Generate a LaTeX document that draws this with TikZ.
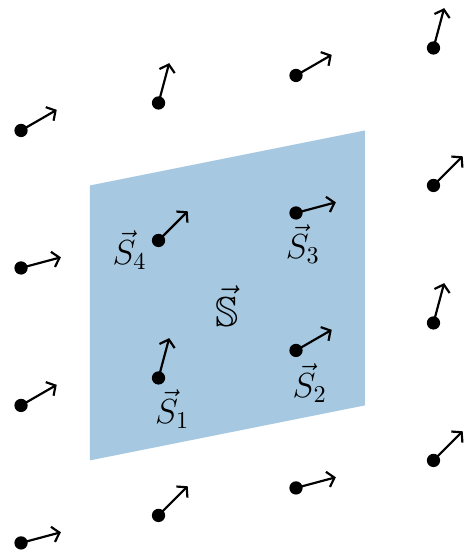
\documentclass[tikz,border=0pt]{standalone}
\usepackage{amssymb}
\usepackage{tikz}
\usetikzlibrary{arrows.meta,positioning,calc}
\usepackage{xcolor}
\definecolor{spPlane}{RGB}{166,200,224}

\begin{document}
\begin{tikzpicture}[x=2cm, y=2cm,
  site/.style={circle, fill=black, inner sep=0pt, minimum size=5.5pt},
  spin/.style={-{Straight Barb[length=2.8pt, width=6.5pt]}, line width=0.9pt, line cap=round},
  lbl/.style={font=\Large, inner sep=1pt}]
\useasboundingbox (-0.153,-0.066) rectangle (3.287,3.949);
% plaquette
\fill[spPlane] (0.5,0.6) -- (2.5,1.0) -- (2.5,3.0) -- (0.5,2.6) -- cycle;
% lattice of spins, angle repeats on a 2x2 cell
\foreach \i in {0,...,3}{
  \foreach \j in {0,...,3}{
    \pgfmathtruncatemacro{\k}{2*mod(\i,2)+mod(\j,2)}
    \pgfmathsetmacro{\ang}{{15,30,45,75}[\k]}
    \node[site] (d\i\j) at ({\i},{\j+0.2*\i}) {};
    \coordinate (t\i\j) at ($(d\i\j.center)+(\ang:0.3)$);
    \draw[spin] (d\i\j.center) -- (t\i\j);
  }
}
\node[lbl] (s1) at ($(d11)+(0.10,-0.23)$) {$\vec{S}_1$};
\node[lbl] (s2) at ($(d21)+(0.10,-0.24)$) {$\vec{S}_2$};
\node[lbl] (s3) at ($(d22)+(0.05,-0.23)$) {$\vec{S}_3$};
\node[lbl] (s4) at ($(d12)+(-0.21,-0.07)$) {$\vec{S}_4$};
\node[lbl, font=\LARGE] (sS) at (1.5,1.72) {$\vec{\mathbb{S}}$};
\end{tikzpicture}
\end{document}
